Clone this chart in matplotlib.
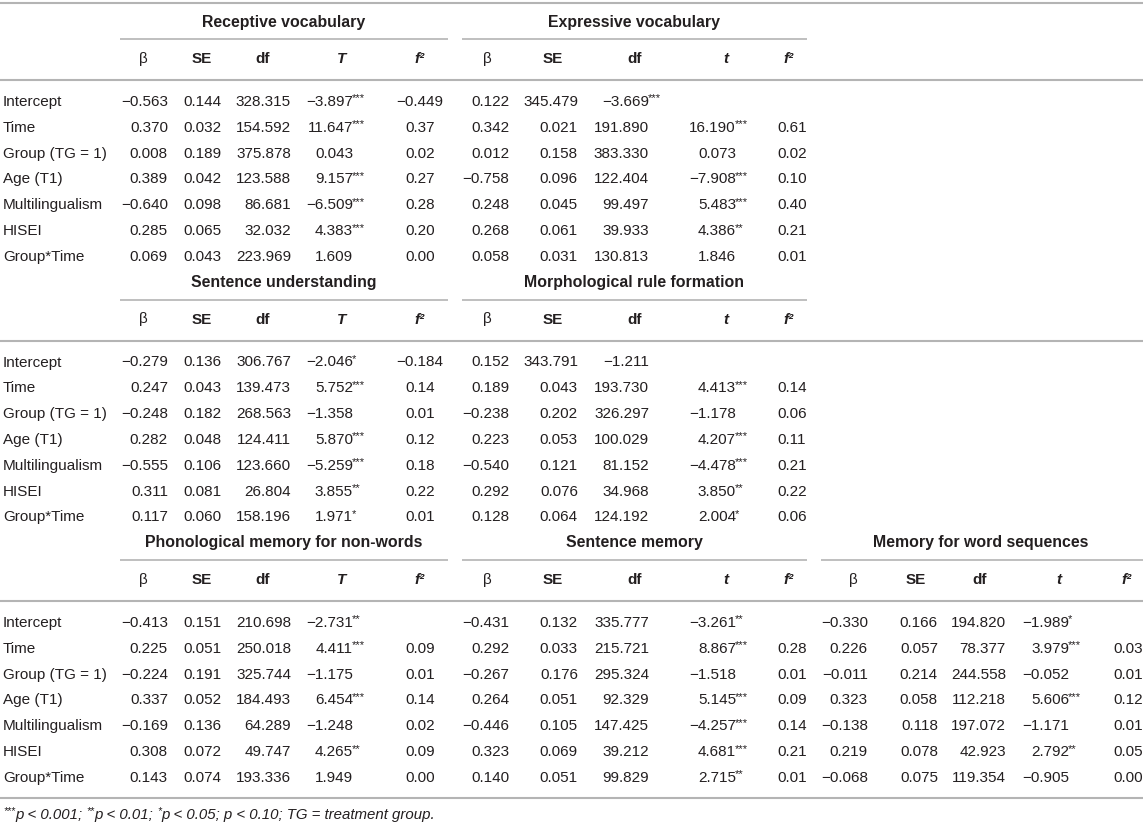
import matplotlib
matplotlib.use("Agg")
import matplotlib.pyplot as plt

plt.rcParams['font.family'] = ['Liberation Sans', 'DejaVu Sans']

M = "\u2212"  # minus sign as printed in the table

row_labels = ["Intercept", "Time", "Group (TG = 1)", "Age (T1)",
              "Multilingualism", "HISEI", "Group*Time"]

# Receptive vocabulary
rec_beta = [M + "0.563", "0.370", "0.008", "0.389", M + "0.640", "0.285", "0.069"]
rec_se = ["0.144", "0.032", "0.189", "0.042", "0.098", "0.065", "0.043"]
rec_df = ["328.315", "154.592", "375.878", "123.588", "86.681", "32.032", "223.969"]
rec_t = [M + "3.897***", "11.647***", "0.043", "9.157***", M + "6.509***", "4.383***", "1.609"]
rec_f2 = [M + "0.449", "0.37", "0.02", "0.27", "0.28", "0.20", "0.00"]

# Expressive vocabulary (intercept row is shifted left in the source)
exp_beta = ["0.122", "0.342", "0.012", M + "0.758", "0.248", "0.268", "0.058"]
exp_se = ["345.479", "0.021", "0.158", "0.096", "0.045", "0.061", "0.031"]
exp_df = [M + "3.669***", "191.890", "383.330", "122.404", "99.497", "39.933", "130.813"]
exp_t = ["", "16.190***", "0.073", M + "7.908***", "5.483***", "4.386**", "1.846"]
exp_f2 = ["", "0.61", "0.02", "0.10", "0.40", "0.21", "0.01"]

# Sentence understanding
sen_beta = [M + "0.279", "0.247", M + "0.248", "0.282", M + "0.555", "0.311", "0.117"]
sen_se = ["0.136", "0.043", "0.182", "0.048", "0.106", "0.081", "0.060"]
sen_df = ["306.767", "139.473", "268.563", "124.411", "123.660", "26.804", "158.196"]
sen_t = [M + "2.046*", "5.752***", M + "1.358", "5.870***", M + "5.259***", "3.855**", "1.971*"]
sen_f2 = [M + "0.184", "0.14", "0.01", "0.12", "0.18", "0.22", "0.01"]

# Morphological rule formation
mor_beta = ["0.152", "0.189", M + "0.238", "0.223", M + "0.540", "0.292", "0.128"]
mor_se = ["343.791", "0.043", "0.202", "0.053", "0.121", "0.076", "0.064"]
mor_df = [M + "1.211", "193.730", "326.297", "100.029", "81.152", "34.968", "124.192"]
mor_t = ["", "4.413***", M + "1.178", "4.207***", M + "4.478***", "3.850**", "2.004*"]
mor_f2 = ["", "0.14", "0.06", "0.11", "0.21", "0.22", "0.06"]

# Phonological memory for non-words
pho_beta = [M + "0.413", "0.225", M + "0.224", "0.337", M + "0.169", "0.308", "0.143"]
pho_se = ["0.151", "0.051", "0.191", "0.052", "0.136", "0.072", "0.074"]
pho_df = ["210.698", "250.018", "325.744", "184.493", "64.289", "49.747", "193.336"]
pho_t = [M + "2.731**", "4.411***", M + "1.175", "6.454***", M + "1.248", "4.265**", "1.949"]
pho_f2 = ["", "0.09", "0.01", "0.14", "0.02", "0.09", "0.00"]

# Sentence memory
smem_beta = [M + "0.431", "0.292", M + "0.267", "0.264", M + "0.446", "0.323", "0.140"]
smem_se = ["0.132", "0.033", "0.176", "0.051", "0.105", "0.069", "0.051"]
smem_df = ["335.777", "215.721", "295.324", "92.329", "147.425", "39.212", "99.829"]
smem_t = [M + "3.261**", "8.867***", M + "1.518", "5.145***", M + "4.257***", "4.681***", "2.715**"]
smem_f2 = ["", "0.28", "0.01", "0.09", "0.14", "0.21", "0.01"]

# Memory for word sequences
wseq_beta = [M + "0.330", "0.226", M + "0.011", "0.323", M + "0.138", "0.219", M + "0.068"]
wseq_se = ["0.166", "0.057", "0.214", "0.058", "0.118", "0.078", "0.075"]
wseq_df = ["194.820", "78.377", "244.558", "112.218", "197.072", "42.923", "119.354"]
wseq_t = [M + "1.989*", "3.979***", M + "0.052", "5.606***", M + "1.171", "2.792**", M + "0.905"]
wseq_f2 = ["", "0.03", "0.01", "0.12", "0.01", "0.05", "0.00"]

footnote = [("***", True), ("p < 0.001; ", False), ("**", True), ("p < 0.01; ", False),
            ("*", True), ("p < 0.05; p < 0.10; TG = treatment group.", False)]

# column anchors (pixels): right edges of beta/se/df/t numbers, centre of f2
layout_a = dict(cols=[168, 221, 291, 353], f2=420, hdr=[143, 202, 263, 342, 420],
                title=284, rule=(120, 448))
layout_b = dict(cols=[509, 578, 649, 736], f2=792, hdr=[487, 553, 635, 726, 789],
                title=634, rule=(462, 807))
layout_d = dict(cols=[868, 938, 1006, 1069], f2=1128, hdr=[853, 916, 980, 1059, 1127],
                title=981, rule=(821, 1143))

blocks = [
    (0, "Receptive vocabulary", "T", layout_a, [rec_beta, rec_se, rec_df, rec_t, rec_f2]),
    (0, "Expressive vocabulary", "t", layout_b, [exp_beta, exp_se, exp_df, exp_t, exp_f2]),
    (1, "Sentence understanding", "T", layout_a, [sen_beta, sen_se, sen_df, sen_t, sen_f2]),
    (1, "Morphological rule formation", "t", layout_b, [mor_beta, mor_se, mor_df, mor_t, mor_f2]),
    (2, "Phonological memory for non-words", "T", layout_a, [pho_beta, pho_se, pho_df, pho_t, pho_f2]),
    (2, "Sentence memory", "t", layout_b, [smem_beta, smem_se, smem_df, smem_t, smem_f2]),
    (2, "Memory for word sequences", "t", layout_d, [wseq_beta, wseq_se, wseq_df, wseq_t, wseq_f2]),
]

W, H = 1143, 825
TXT = "#231f20"
RULE = "#b4b4b4"
FS = 11

fig = plt.figure(figsize=(W / 100, H / 100), dpi=100)
ax = fig.add_axes([0, 0, 1, 1])
ax.set_xlim(0, W)
ax.set_ylim(H, 0)
ax.axis("off")

sec_step = 260.5
row_step = 25.83


def put_number(x, y, s):
    num = s.rstrip("*")
    stars = s[len(num):]
    ax.text(x, y, num, ha="right", va="center", fontsize=FS, color=TXT)
    if stars:
        ax.text(x - 1.5, y - 3.5, stars, ha="left", va="center", fontsize=8, color=TXT)


ax.hlines(3, 0, W, color=RULE, lw=1.5)
for sec in range(3):
    y0 = sec * sec_step
    ax.hlines(y0 + 80, 0, W, color=RULE, lw=1.5)
    for i, lab in enumerate(row_labels):
        ax.text(3, y0 + 102 + i * row_step, lab, ha="left", va="center",
                fontsize=FS, color=TXT)
ax.hlines(798, 0, W, color=RULE, lw=1.5)

for sec, title, tname, lay, cols in blocks:
    y0 = sec * sec_step
    ax.text(lay["title"], y0 + 22, title, ha="center", va="center",
            fontsize=11.4, fontweight="bold", color=TXT)
    ax.hlines(y0 + 39, lay["rule"][0], lay["rule"][1], color=RULE, lw=1.2)
    hx = lay["hdr"]
    hy = y0 + 59
    ax.text(hx[0], hy, "\u03b2", ha="center", va="center", fontsize=FS, color=TXT)
    ax.text(hx[1], hy, "SE", ha="center", va="center", fontsize=FS, fontweight="bold", color=TXT)
    ax.text(hx[2], hy, "df", ha="center", va="center", fontsize=FS, fontweight="bold", color=TXT)
    ax.text(hx[3], hy, tname, ha="center", va="center", fontsize=FS, fontweight="bold",
            style="italic", color=TXT)
    ax.text(hx[4], hy, "f\u00b2", ha="center", va="center", fontsize=FS, fontweight="bold",
            style="italic", color=TXT)
    for i in range(len(row_labels)):
        y = y0 + 102 + i * row_step
        for c in range(4):
            if cols[c][i]:
                put_number(lay["cols"][c], y, cols[c][i])
        if cols[4][i]:
            ax.text(lay["f2"], y, cols[4][i], ha="center", va="center", fontsize=FS, color=TXT)

# footnote, pieces laid out one after another
renderer = fig.canvas.get_renderer()
x = 3
for piece, sup in footnote:
    if sup:
        t = ax.text(x, 811, piece, ha="left", va="center", fontsize=7.5, style="italic", color=TXT)
    else:
        t = ax.text(x, 815, piece, ha="left", va="center", fontsize=10.8, style="italic", color=TXT)
    bb = t.get_window_extent(renderer)
    x += bb.width

fig.savefig("out.png", dpi=100)
